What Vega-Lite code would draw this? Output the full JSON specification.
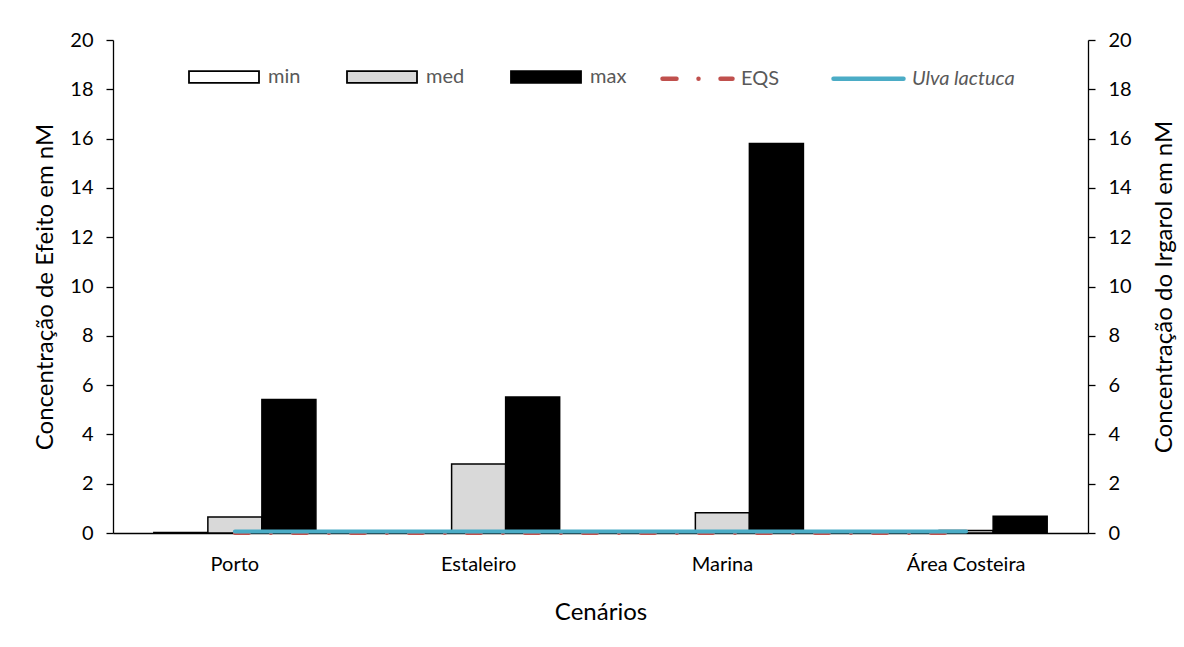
{
  "$schema": "https://vega.github.io/schema/vega-lite/v6.json",
  "autosize": "none",
  "width": 975,
  "height": 493,
  "padding": {"left": 113, "top": 40, "right": 96, "bottom": 114},
  "background": "white",
  "config": {
    "font": "Lato",
    "view": {"stroke": null},
    "axis": {"grid": false, "domainColor": "black", "tickColor": "black", "labelColor": "black", "titleColor": "black", "labelFont": "Lato", "titleFont": "Lato", "labelFontSize": 20, "titleFontSize": 24, "titleFontWeight": "normal", "domainWidth": 1.3, "tickWidth": 1.3},
    "legend": {"labelFont": "Lato", "labelFontSize": 20, "labelColor": "#595959"}
  },
  "datasets": {
    "bars": [
      {"Cenario": "Porto", "stat": "min", "value": 0.02},
      {"Cenario": "Porto", "stat": "med", "value": 0.65},
      {"Cenario": "Porto", "stat": "max", "value": 5.42},
      {"Cenario": "Estaleiro", "stat": "min", "value": 0.08},
      {"Cenario": "Estaleiro", "stat": "med", "value": 2.8},
      {"Cenario": "Estaleiro", "stat": "max", "value": 5.52},
      {"Cenario": "Marina", "stat": "min", "value": 0.02},
      {"Cenario": "Marina", "stat": "med", "value": 0.82},
      {"Cenario": "Marina", "stat": "max", "value": 15.8},
      {"Cenario": "Área Costeira", "stat": "min", "value": 0.03},
      {"Cenario": "Área Costeira", "stat": "med", "value": 0.1},
      {"Cenario": "Área Costeira", "stat": "max", "value": 0.68}
    ],
    "lines": [
      {"Cenario": "Porto", "serie": "EQS", "value": 0.0},
      {"Cenario": "Estaleiro", "serie": "EQS", "value": 0.0},
      {"Cenario": "Marina", "serie": "EQS", "value": 0.0},
      {"Cenario": "Área Costeira", "serie": "EQS", "value": 0.0},
      {"Cenario": "Porto", "serie": "Ulva lactuca", "value": 0.06},
      {"Cenario": "Estaleiro", "serie": "Ulva lactuca", "value": 0.06},
      {"Cenario": "Marina", "serie": "Ulva lactuca", "value": 0.06},
      {"Cenario": "Área Costeira", "serie": "Ulva lactuca", "value": 0.06}
    ]
  },
  "encoding": {
    "x": {
      "field": "Cenario", "type": "nominal",
      "sort": ["Porto", "Estaleiro", "Marina", "Área Costeira"],
      "scale": {"paddingInner": 0.335, "paddingOuter": 0.1675},
      "axis": {"labelAngle": 0, "ticks": false, "labelPadding": 21, "title": "Cenários", "titlePadding": 26}
    }
  },
  "layer": [
    {
      "data": {"name": "bars"},
      "mark": {"type": "bar", "stroke": "black", "strokeWidth": 1.5},
      "encoding": {
        "xOffset": {"field": "stat", "type": "nominal", "sort": ["min", "med", "max"], "scale": {"paddingInner": 0, "paddingOuter": 0}},
        "y": {
          "field": "value", "type": "quantitative",
          "scale": {"domain": [0, 20], "nice": false},
          "axis": {"orient": "left", "values": [0, 2, 4, 6, 8, 10, 12, 14, 16, 18, 20], "tickSize": 7, "labelPadding": 13, "title": "Concentração de Efeito em nM", "titlePadding": 12}
        },
        "fill": {
          "field": "stat", "type": "nominal",
          "scale": {"domain": ["min", "med", "max"], "range": ["white", "#d9d9d9", "black"]},
          "legend": {
            "title": null, "orient": "none", "direction": "horizontal", "columns": 3,
            "legendX": 75, "legendY": 1, "columnPadding": 42,
            "symbolType": "M-1,-0.17L1,-0.17L1,0.17L-1,0.17Z", "symbolSize": 4900,
            "symbolStrokeColor": "black", "symbolStrokeWidth": 1.8, "labelOffset": 8
          }
        }
      }
    },
    {
      "data": {"name": "lines"},
      "mark": {"type": "line", "strokeWidth": 4, "strokeCap": "round"},
      "encoding": {
        "y": {
          "field": "value", "type": "quantitative",
          "scale": {"domain": [0, 20], "nice": false},
          "axis": {"orient": "right", "values": [0, 2, 4, 6, 8, 10, 12, 14, 16, 18, 20], "tickSize": 7, "labelPadding": 13, "title": "Concentração do Irgarol em nM", "titleAngle": 270, "titleBaseline": "top", "titlePadding": 21}
        },
        "stroke": {
          "field": "serie", "type": "nominal",
          "scale": {"domain": ["EQS", "Ulva lactuca"], "range": ["#c0504d", "#4bacc6"]},
          "legend": {
            "title": null, "orient": "none", "direction": "horizontal", "columns": 2,
            "legendX": 547, "legendY": 1, "columnPadding": 44,
            "symbolType": "stroke", "symbolSize": 4900, "symbolStrokeWidth": 4.5, "labelOffset": 6,
            "encode": {
              "symbols": {"update": {"strokeCap": {"value": "round"}}},
              "labels": {"update": {"fontStyle": {"signal": "datum.value === 'Ulva lactuca' ? 'italic' : 'normal'"}}}
            }
          }
        },
        "strokeDash": {
          "field": "serie", "type": "nominal",
          "scale": {"domain": ["EQS", "Ulva lactuca"], "range": [[14, 22, 0.01, 22], [1, 0]]},
          "legend": {
            "title": null, "orient": "none", "direction": "horizontal", "columns": 2,
            "legendX": 547, "legendY": 1, "columnPadding": 44,
            "symbolType": "stroke", "symbolSize": 4900, "symbolStrokeWidth": 4.5, "labelOffset": 6,
            "encode": {
              "symbols": {"update": {"strokeCap": {"value": "round"}}},
              "labels": {"update": {"fontStyle": {"signal": "datum.value === 'Ulva lactuca' ? 'italic' : 'normal'"}}}
            }
          }
        }
      }
    }
  ],
  "resolve": {"scale": {"y": "independent"}}
}
